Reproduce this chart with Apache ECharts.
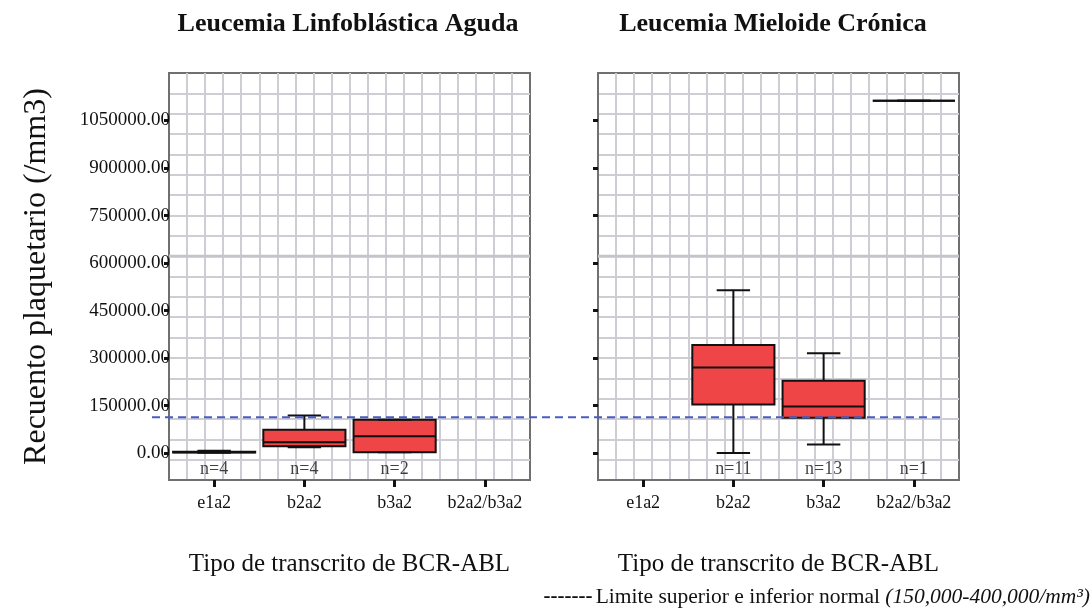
<!DOCTYPE html>
<html>
<head>
<meta charset="utf-8">
<script src="https://cdn.jsdelivr.net/npm/echarts@6/dist/echarts.min.js"></script>
<style>
  html, body { margin: 0; padding: 0; background: #ffffff; }
  #chart { width: 1092px; height: 616px; }
</style>
</head>
<body>
<div id="chart"></div>
<script>
// Transcript categories shared by both panels
const categories = ['e1a2', 'b2a2', 'b3a2', 'b2a2/b3a2'];
const panelTitles = ['Leucemia Linfoblástica Aguda', 'Leucemia Mieloide Crónica'];

// Platelet counts per category: [min, Q1, median, Q3, max]; null = no cases
const llaBoxes = [
  [1000, 2000, 3000, 4000, 7000],
  [18400, 21500, 34200, 73500, 118800],
  [2500, 2500, 53200, 105100, 105100],
  null
];
const lmcBoxes = [
  null,
  [0, 153600, 269800, 341400, 513700],
  [26900, 111500, 147300, 228700, 315100],
  [1112000, 1112000, 1112000, 1112000, 1112000]
];

// Number of patients per category
const llaCounts = [4, 4, 2, 0];
const lmcCounts = [0, 11, 13, 1];

// Value-axis ticks
const yTicks = [0, 150000, 300000, 450000, 600000, 750000, 900000, 1050000];
const yMin = -85000;
const yMax = 1200000;

// Reference (normal-limit) line level
const limitValue = 113000;

const SERIF = '"Liberation Serif", "Times New Roman", serif';
const INK = '#111111';
const FRAME = '#707070';
const PAPER = '#cdcdd3';
const BOX_FILL = '#ef4547';

function boxItems(boxes) {
  const out = [];
  boxes.forEach((b, i) => { if (b) out.push([i].concat(b)); });
  return out;
}
function countItems(counts) {
  const out = [];
  counts.forEach((n, i) => { if (n > 0) out.push([i, 0, n]); });
  return out;
}

// Box with narrow whisker caps
function renderBox(params, api) {
  const idx = api.value(0);
  const pts = [1, 2, 3, 4, 5].map(k => api.coord([idx, api.value(k)]));
  const cx = pts[0][0];
  const yLo = pts[0][1], yQ1 = pts[1][1], yMed = pts[2][1], yQ3 = pts[3][1], yHi = pts[4][1];
  const band = api.size([1, 0])[0];
  const bw = band * 0.91;
  const cw = band * 0.37;
  const stroke = { stroke: INK, lineWidth: 2 };
  return {
    type: 'group',
    children: [
      { type: 'line', shape: { x1: cx, y1: yQ3, x2: cx, y2: yHi }, style: stroke },
      { type: 'line', shape: { x1: cx, y1: yQ1, x2: cx, y2: yLo }, style: stroke },
      { type: 'rect', shape: { x: cx - bw / 2, y: yQ3, width: bw, height: yQ1 - yQ3 },
        style: { fill: BOX_FILL, stroke: INK, lineWidth: 2 } },
      { type: 'line', shape: { x1: cx - bw / 2, y1: yMed, x2: cx + bw / 2, y2: yMed }, style: stroke },
      { type: 'line', shape: { x1: cx - cw / 2, y1: yHi, x2: cx + cw / 2, y2: yHi }, style: stroke },
      { type: 'line', shape: { x1: cx - cw / 2, y1: yLo, x2: cx + cw / 2, y2: yLo }, style: stroke }
    ]
  };
}

const grids = [
  { left: 169, top: 73, width: 361, height: 407 },
  { left: 598, top: 73, width: 361, height: 407 }
];

function categoryAxis(gi) {
  return {
    type: 'category', gridIndex: gi, data: categories, boundaryGap: true,
    axisLine: { show: true, onZero: false, lineStyle: { color: FRAME, width: 2 } },
    axisTick: { show: true, alignWithLabel: true, length: 7, lineStyle: { color: INK, width: 3 } },
    axisLabel: { interval: 0, fontFamily: SERIF, fontSize: 18, color: INK, margin: 14 },
    name: 'Tipo de transcrito de BCR-ABL', nameLocation: 'middle', nameGap: 72,
    nameTextStyle: { fontFamily: SERIF, fontSize: 25, color: INK },
    splitLine: { show: false }
  };
}
function valueAxis(gi) {
  const ax = {
    type: 'value', gridIndex: gi, min: yMin, max: yMax,
    axisLine: { show: true, lineStyle: { color: FRAME, width: 2 } },
    axisTick: { show: true, customValues: yTicks, length: 5, lineStyle: { color: INK, width: 3 } },
    axisLabel: { show: gi === 0, customValues: yTicks, formatter: v => v.toFixed(2),
      fontFamily: SERIF, fontSize: 19, color: INK, margin: -1 },
    splitLine: { show: false }
  };
  if (gi === 0) {
    ax.name = 'Recuento plaquetario (/mm3)';
    ax.nameLocation = 'middle';
    ax.nameGap = 116;
    ax.nameTextStyle = { fontFamily: SERIF, fontSize: 32, color: INK };
  }
  return ax;
}
// Graph-paper background axes
function paperAxis(gi) {
  return {
    type: 'value', gridIndex: gi, min: 0, max: 20, interval: 1,
    axisLine: { show: false }, axisTick: { show: false }, axisLabel: { show: false },
    splitLine: { show: true, showMinLine: false, showMaxLine: false,
      lineStyle: { color: PAPER, width: 2 } }
  };
}

const series = [];
[0, 1].forEach(gi => {
  series.push({
    type: 'line', xAxisIndex: gi + 2, yAxisIndex: gi + 2, z: 1,
    data: [[0, 11], [20, 11]], symbol: 'none', silent: true,
    lineStyle: { color: '#c4c4ca', width: 3 }
  });
});
[[llaBoxes, 0], [lmcBoxes, 1]].forEach(([boxes, gi]) => {
  series.push({
    type: 'custom', xAxisIndex: gi, yAxisIndex: gi, z: 5,
    renderItem: renderBox, data: boxItems(boxes)
  });
});
[[llaCounts, 0], [lmcCounts, 1]].forEach(([counts, gi]) => {
  series.push({
    type: 'scatter', xAxisIndex: gi, yAxisIndex: gi, z: 6,
    symbolSize: 0, data: countItems(counts),
    label: { show: true, position: 'inside', offset: [0, 16],
      formatter: p => 'n=' + p.value[2],
      fontFamily: SERIF, fontSize: 18, color: INK }
  });
});

const chart = echarts.init(document.getElementById('chart'), null, { renderer: 'canvas' });
chart.setOption({
  animation: false,
  backgroundColor: '#ffffff',
  grid: grids.map(g => Object.assign({ show: true, borderColor: FRAME, borderWidth: 2,
    backgroundColor: 'transparent' }, g)),
  xAxis: [categoryAxis(0), categoryAxis(1), paperAxis(0), paperAxis(1)],
  yAxis: [valueAxis(0), valueAxis(1), paperAxis(0), paperAxis(1)],
  series: series
});

const limitY = chart.convertToPixel({ yAxisIndex: 0 }, limitValue);
chart.setOption({
  graphic: [
    { type: 'text', x: 348, y: 24, z: 10,
      style: { text: panelTitles[0], font: 'bold 26px ' + SERIF, fill: INK,
        align: 'center', verticalAlign: 'middle' } },
    { type: 'text', x: 773, y: 24, z: 10,
      style: { text: panelTitles[1], font: 'bold 26px ' + SERIF, fill: INK,
        align: 'center', verticalAlign: 'middle' } },
    { type: 'line', z: 8, silent: true,
      shape: { x1: 152, y1: limitY, x2: 945, y2: limitY },
      style: { stroke: '#4a5cc4', lineWidth: 2, lineDash: [8, 5] } },
    { type: 'text', x: 1090, y: 597, z: 10,
      style: {
        text: '{d|-------} {t|Limite superior e inferior normal }{i|(150,000-400,000/mm³)}',
        align: 'right', verticalAlign: 'middle',
        rich: {
          d: { fontFamily: SERIF, fontSize: 21, fontWeight: 'bold', fill: INK },
          t: { fontFamily: SERIF, fontSize: 21.5, fill: INK },
          i: { fontFamily: SERIF, fontSize: 21.5, fontStyle: 'italic', fill: INK }
        }
      } }
  ]
});
</script>
</body>
</html>
